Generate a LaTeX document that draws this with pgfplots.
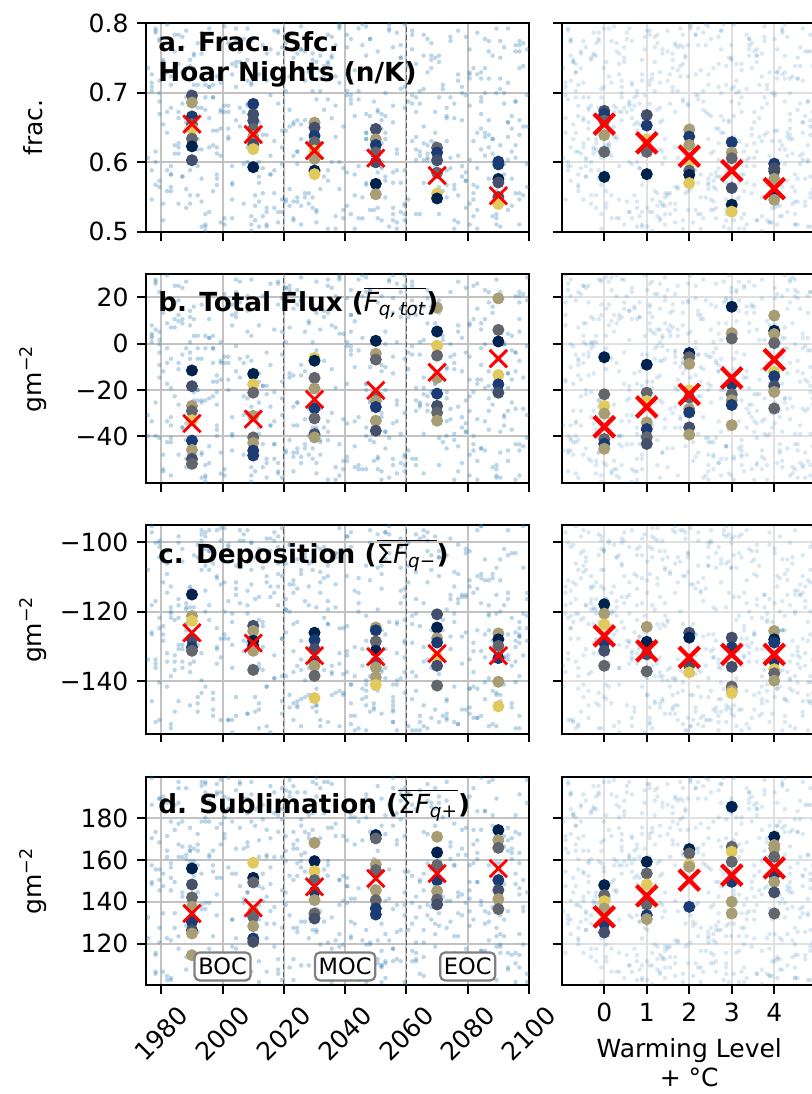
\documentclass[border=0pt]{standalone}
\usepackage{fontspec}
\setmainfont{DejaVu Sans}
\usepackage{amsmath}
\usepackage{pgfplots}
\usepackage{pgfplotstable}
\pgfplotsset{compat=1.18}

\definecolor{cnavy}{HTML}{00224E}
\definecolor{cblue}{HTML}{1B3B74}
\definecolor{cslate}{HTML}{444F6C}
\definecolor{cgray}{HTML}{64666E}
\definecolor{ctan}{HTML}{A89E76}
\definecolor{cyel}{HTML}{E1C95C}
\definecolor{tabblue}{HTML}{1F77B4}

% background scatter, normalised 0-99
\pgfplotstableread{
p q r s
12 85 43 67
57 23 91 8
34 61 5 76
88 47 29 52
3 92 68 15
71 8 37 94
46 74 82 31
19 36 14 59
95 55 63 2
28 17 48 83
63 99 21 44
8 42 77 70
82 66 9 26
40 3 56 89
67 29 33 11
24 81 96 62
51 50 71 38
91 14 2 97
6 70 45 20
76 38 87 73
33 96 18 48
59 21 60 6
15 58 39 85
85 7 94 34
44 89 25 57
2 33 73 92
70 64 11 17
37 12 52 65
98 79 35 40
21 45 84 3
54 27 7 78
79 93 66 23
10 52 28 51
64 5 99 87
31 72 42 13
87 39 16 69
48 84 75 35
17 19 57 98
93 61 31 9
26 97 89 46
72 34 4 81
5 76 64 28
58 10 20 60
39 53 92 14
84 87 49 74
14 25 13 39
66 68 79 91
29 2 38 5
97 46 58 55
43 82 26 33
1 15 70 80
75 57 47 1
52 94 10 64
22 31 85 22
89 73 34 96
35 9 61 42
61 49 1 71
9 88 78 16
80 22 23 53
47 63 97 86
18 40 51 30
94 97 15 8
56 16 69 61
27 71 36 93
73 35 88 45
4 51 6 19
68 80 54 77
38 6 27 58
90 44 81 36
13 90 44 4
60 28 12 84
32 65 95 25
83 11 62 66
45 77 19 49
7 37 74 90
78 59 40 12
50 20 3 72
20 98 90 37
96 41 53 63
41 86 30 7
65 1 67 99
16 54 17 41
86 75 83 24
30 30 46 79
55 67 8 54
11 13 59 10
92 83 24 88
36 48 93 32
62 26 72 68
25 92 41 18
81 4 5 47
49 60 86 95
0 35 32 27
74 78 55 6
42 18 22 75
99 50 98 50
23 69 65 29
69 43 11 82
14 95 38 14
53 8 80 61
87 62 16 40
3 24 50 97
66 89 91 3
39 32 27 70
95 12 70 34
18 74 43 85
57 56 6 21
31 3 62 55
76 84 34 9
8 40 87 76
45 67 13 44
91 19 58 92
27 91 97 18
62 47 24 59
11 29 75 31
84 73 41 72
35 15 2 96
70 57 84 13
4 82 53 65
50 33 18 37
93 88 66 83
22 6 31 2
67 69 94 52
40 44 9 26
86 21 49 89
16 97 78 43
59 38 36 67
79 64 60 11
29 14 85 78
47 80 20 57
97 53 72 23
6 27 3 91
72 94 45 35
37 58 92 73
54 1 29 48
19 71 67 5
88 36 15 64
32 87 56 99
64 23 81 17
10 49 7 86
83 65 39 38
44 10 96 62
0 78 22 15
75 42 76 81
26 61 33 29
61 30 89 53
96 86 1 69
13 17 64 8
52 75 47 94
38 52 12 39
80 5 57 22
21 90 84 76
57 44 26 60
}\bg

% ensemble members: x y colour-class
\pgfplotstableread{
x y c
1990 0.696 s
1990 0.686 t
1990 0.666 b
1990 0.655 g
1990 0.648 y
1990 0.634 g
1990 0.623 n
1990 0.603 s
2010 0.684 b
2010 0.669 s
2010 0.660 s
2010 0.648 g
2010 0.637 t
2010 0.626 s
2010 0.619 y
2010 0.593 n
2030 0.657 t
2030 0.650 s
2030 0.638 b
2030 0.629 g
2030 0.617 y
2030 0.605 t
2030 0.588 n
2030 0.583 y
2050 0.648 s
2050 0.633 t
2050 0.625 b
2050 0.614 g
2050 0.600 s
2050 0.569 n
2050 0.554 t
2070 0.621 g
2070 0.614 b
2070 0.603 s
2070 0.585 g
2070 0.555 y
2070 0.548 n
2070 0.497 y
2090 0.601 b
2090 0.597 b
2090 0.576 n
2090 0.571 s
2090 0.550 s
2090 0.545 g
2090 0.540 y
}\aL
\pgfplotstableread{
x y c
0 0.674 s
0 0.669 b
0 0.660 g
0 0.639 t
0 0.615 g
0 0.579 n
1 0.668 s
1 0.653 b
1 0.633 y
1 0.620 g
1 0.615 g
1 0.583 n
2 0.647 t
2 0.637 b
2 0.625 t
2 0.602 y
2 0.588 g
2 0.582 n
2 0.570 y
3 0.629 b
3 0.614 t
3 0.606 g
3 0.563 s
3 0.539 n
3 0.529 y
4 0.598 b
4 0.591 s
4 0.587 s
4 0.576 t
4 0.552 n
4 0.546 t
}\aR
\pgfplotstableread{
x y c
1990 -11.5 n
1990 -18.3 s
1990 -26.8 t
1990 -29.0 g
1990 -33.0 y
1990 -41.8 b
1990 -45.8 t
1990 -49.7 s
1990 -51.8 g
2010 -13.0 n
2010 -17.5 y
2010 -21.1 g
2010 -31.1 t
2010 -40.4 g
2010 -42.8 t
2010 -46.1 b
2010 -48.2 b
2030 -6.1 y
2030 -7.3 n
2030 -14.7 g
2030 -19.3 t
2030 -27.8 b
2030 -32.2 g
2030 -39.0 s
2030 -40.4 t
2050 1.3 n
2050 -4.3 t
2050 -6.8 g
2050 -22.5 g
2050 -24.7 t
2050 -27.3 b
2050 -33.2 t
2050 -37.5 s
2070 15.6 t
2070 5.3 n
2070 -0.8 y
2070 -5.1 g
2070 -14.7 t
2070 -21.5 b
2070 -26.8 s
2070 -29.7 g
2070 -33.2 t
2090 19.6 t
2090 6.0 g
2090 1.0 n
2090 -13.5 y
2090 -17.5 b
2090 -21.1 s
}\bL
\pgfplotstableread{
x y c
0 -5.8 n
0 -21.8 g
0 -26.8 y
0 -30.1 t
0 -41.1 g
0 -43.2 b
0 -45.3 t
1 -9.0 n
1 -21.1 g
1 -24.7 y
1 -33.9 t
1 -36.8 b
1 -40.3 g
1 -43.2 s
2 -4.0 n
2 -5.8 g
2 -8.7 t
2 -20.1 y
2 -23.2 g
2 -28.2 t
2 -29.6 b
2 -36.1 s
2 -39.2 t
3 16.0 n
3 4.6 t
3 2.3 g
3 -17.5 b
3 -21.8 g
3 -24.4 t
3 -26.4 b
3 -35.1 t
4 12.2 t
4 5.6 n
4 4.2 t
4 0.3 g
4 -12.1 y
4 -14.0 b
4 -18.2 s
4 -20.8 t
4 -27.9 g
}\bR
\pgfplotstableread{
x y c
1990 -115.0 n
1990 -121.2 t
1990 -122.6 y
1990 -127.9 s
1990 -130.2 b
1990 -131.2 g
2010 -124.0 s
2010 -125.5 t
2010 -128.3 n
2010 -129.8 n
2010 -131.2 t
2010 -136.7 g
2030 -126.0 n
2030 -128.1 b
2030 -130.7 s
2030 -134.1 b
2030 -135.5 t
2030 -138.4 g
2030 -144.8 y
2050 -124.5 t
2050 -125.3 b
2050 -128.5 g
2050 -131.2 n
2050 -134.5 s
2050 -136.0 t
2050 -138.8 t
2050 -141.0 y
2070 -120.7 s
2070 -124.5 n
2070 -127.6 t
2070 -128.8 b
2070 -133.1 y
2070 -135.5 s
2070 -141.2 g
2090 -126.2 t
2090 -127.9 n
2090 -129.8 g
2090 -133.3 b
2090 -140.1 t
2090 -147.2 y
}\cL
\pgfplotstableread{
x y c
0 -117.8 n
0 -120.5 t
0 -123.6 y
0 -128.8 b
0 -131.2 s
0 -135.5 g
1 -124.3 t
1 -128.6 n
1 -132.2 s
1 -137.1 g
2 -126.0 s
2 -127.4 n
2 -135.5 s
2 -137.4 y
3 -127.4 s
3 -130.2 b
3 -135.8 s
3 -141.5 g
3 -142.7 t
3 -143.4 y
4 -125.5 t
4 -127.9 n
4 -128.8 b
4 -134.1 b
4 -136.5 y
4 -137.7 g
4 -139.8 t
}\cR
\pgfplotstableread{
x y c
1990 156.0 n
1990 148.3 s
1990 142.1 g
1990 137.6 t
1990 130.4 b
1990 126.4 s
1990 124.8 t
1990 114.4 t
2010 158.7 y
2010 151.5 n
2010 149.3 g
2010 135.2 t
2010 132.8 g
2010 128.3 t
2010 122.4 b
2010 120.8 s
2030 168.3 t
2030 159.5 n
2030 154.7 y
2030 150.4 g
2030 144.8 b
2030 140.8 t
2030 134.4 g
2030 132.0 s
2050 172.0 n
2050 170.4 g
2050 157.9 t
2050 155.2 g
2050 145.6 t
2050 140.8 g
2050 136.8 b
2050 133.9 b
2070 171.2 t
2070 163.7 n
2070 157.6 g
2070 150.4 b
2070 145.1 t
2070 141.1 g
2070 138.7 s
2090 174.4 n
2090 169.6 t
2090 165.9 g
2090 150.4 b
2090 145.6 s
2090 141.3 t
2090 136.5 g
}\dL
\pgfplotstableread{
x y c
0 148.0 n
0 143.2 g
0 140.3 y
0 136.8 t
0 129.6 b
0 125.3 s
1 159.2 n
1 153.6 g
1 148.3 y
1 138.7 g
1 133.6 b
1 131.7 t
2 165.3 n
2 163.2 g
2 157.9 y
2 156.8 t
2 137.6 b
3 185.6 n
3 166.4 g
3 164.0 y
3 159.2 g
3 149.6 b
3 140.0 t
3 134.4 t
4 171.2 n
4 167.2 t
4 165.6 t
4 161.6 g
4 152.8 b
4 149.6 t
4 144.5 s
4 134.4 g
}\dR

\pgfplotsset{
  panel/.style={
    scale only axis, height=83.4pt, anchor=north west,
    axis line style={line width=0.8pt},
    tick align=outside, tick pos=left, major tick length=3.5pt,
    every tick/.append style={black, line width=0.8pt},
    tick label style={font=\fontsize{10}{12}\selectfont},
    label style={font=\fontsize{10}{11.5}\selectfont},
    grid=major, clip mode=individual,
  },
  lpanel/.style={panel, width=153.2pt, xmin=1975, xmax=2100,
    xtick={1980,2000,2020,2040,2060,2080,2100},
    major grid style={line width=0.8pt, black!24},
    ylabel style={at={(axis description cs:-0.295,0.5)}, anchor=center}},
  rpanel/.style={panel, width=102pt, xmin=-1, xmax=5, xtick={0,1,2,3,4},
    yticklabels={}, major grid style={line width=0.8pt, black!12}},
  bg/.style={only marks, mark=*, mark size=0.9pt,
    mark options={draw=tabblue, fill=tabblue, draw opacity=0, fill opacity=#1}},
  ens/.style={scatter, only marks, scatter src=explicit symbolic, mark size=2.2pt,
    scatter/classes={
      n={mark=*, draw=cnavy, fill=cnavy},
      b={mark=*, draw=cblue, fill=cblue},
      s={mark=*, draw=cslate, fill=cslate},
      g={mark=*, draw=cgray, fill=cgray},
      t={mark=*, draw=ctan, fill=ctan},
      y={mark=*, draw=cyel, fill=cyel}}},
  meanL/.style={only marks, mark=x, mark size=4.9pt, red, line width=1.15pt},
  meanR/.style={only marks, mark=x, mark size=5.8pt, red, line width=1.7pt},
}
\tikzset{
  divline/.style={draw=black!65, line width=0.45pt, dash pattern=on 2pt off 1.2pt},
  ptitle/.style={anchor=base west, inner sep=0pt, font=\bfseries\fontsize{10.5}{12}\selectfont},
  period/.style={draw=gray, line width=0.9pt, rounded corners=2pt, fill=white,
    inner xsep=1.5pt, inner ysep=2.3pt, text height=6.6pt, text depth=0pt,
    font=\fontsize{9}{10}\selectfont},
}

\begin{document}
\begin{tikzpicture}
% ---- row a
\begin{axis}[lpanel, at={(58.4pt,-9.32pt)}, ymin=0.5, ymax=0.8,
  ytick={0.5,0.6,0.7,0.8}, yticklabels={0.5,0.6,0.7,0.8}, xticklabels={}, ylabel={frac.}]
  \addplot[bg=0.3] table[x expr={1975+1.25*(\thisrow{p}+0.5)}, y expr={0.5+0.003*(\thisrow{q}+0.5)}] {\bg};
  \addplot[bg=0.3] table[x expr={1975+1.25*(\thisrow{r}+0.5)}, y expr={0.5+0.003*(\thisrow{s}+0.5)}] {\bg};
  \addplot[bg=0.3] table[x expr={1975+1.25*(\thisrow{s}+0.5)}, y expr={0.5+0.003*(\thisrow{p}+0.5)}] {\bg};
  \addplot[bg=0.3] table[x expr={1975+1.25*(\thisrow{q}+0.5)}, y expr={0.5+0.003*(\thisrow{r}+0.5)}] {\bg};
  \draw[divline] (axis cs:2020,0.5) -- (axis cs:2020,0.8);
  \draw[divline] (axis cs:2060,0.5) -- (axis cs:2060,0.8);
  \addplot[ens] table[meta=c] {\aL};
  \addplot[meanL] coordinates {(1990,0.655) (2010,0.640) (2030,0.617) (2050,0.606) (2070,0.581) (2090,0.552)};
  \node[ptitle] at (rel axis cs:0.031,1) [yshift=-11.4pt] {a. Frac. Sfc.};
  \node[ptitle] at (rel axis cs:0.031,1) [yshift=-23.4pt] {Hoar Nights (n/K)};
\end{axis}
\begin{axis}[rpanel, at={(224.7pt,-9.32pt)}, ymin=0.5, ymax=0.8,
  ytick={0.5,0.6,0.7,0.8}, xticklabels={}]
  \addplot[bg=0.17] table[x expr={-1+0.06*(\thisrow{q}+0.5)}, y expr={0.5+0.003*(\thisrow{p}+0.5)}] {\bg};
  \addplot[bg=0.17] table[x expr={-1+0.06*(\thisrow{s}+0.5)}, y expr={0.5+0.003*(\thisrow{r}+0.5)}] {\bg};
  \addplot[bg=0.17] table[x expr={-1+0.06*(\thisrow{r}+0.5)}, y expr={0.5+0.003*(\thisrow{s}+0.5)}] {\bg};
  \addplot[bg=0.17] table[x expr={-1+0.06*(\thisrow{p}+0.5)}, y expr={0.5+0.003*(\thisrow{q}+0.5)}] {\bg};
  \addplot[ens] table[meta=c] {\aR};
  \addplot[meanR] coordinates {(0,0.655) (1,0.628) (2,0.609) (3,0.588) (4,0.562)};
\end{axis}
% ---- row b
\begin{axis}[lpanel, at={(58.4pt,-109.72pt)}, ymin=-60, ymax=30,
  ytick={-40,-20,0,20}, yticklabels={−40,−20,0,20}, xticklabels={}, ylabel={gm\textsuperscript{−2}}]
  \addplot[bg=0.3] table[x expr={1975+1.25*(\thisrow{q}+0.5)}, y expr={-60+0.9*(\thisrow{r}+0.5)}] {\bg};
  \addplot[bg=0.3] table[x expr={1975+1.25*(\thisrow{s}+0.5)}, y expr={-60+0.9*(\thisrow{p}+0.5)}] {\bg};
  \addplot[bg=0.3] table[x expr={1975+1.25*(\thisrow{p}+0.5)}, y expr={-60+0.9*(\thisrow{r}+0.5)}] {\bg};
  \addplot[bg=0.3] table[x expr={1975+1.25*(\thisrow{r}+0.5)}, y expr={-60+0.9*(\thisrow{s}+0.5)}] {\bg};
  \draw[divline] (axis cs:2020,-60) -- (axis cs:2020,30);
  \draw[divline] (axis cs:2060,-60) -- (axis cs:2060,30);
  \addplot[ens] table[meta=c] {\bL};
  \addplot[meanL] coordinates {(1990,-34.4) (2010,-32.5) (2030,-24.0) (2050,-20.1) (2070,-12.3) (2090,-6.4)};
  \node[ptitle] at (rel axis cs:0.031,1) [yshift=-15pt] {b. Total Flux ($\overline{\text{\mdseries\itshape F}_{\text{\mdseries\itshape q,\,tot}}}$)};
\end{axis}
\begin{axis}[rpanel, at={(224.7pt,-109.72pt)}, ymin=-60, ymax=30,
  ytick={-40,-20,0,20}, xticklabels={}]
  \addplot[bg=0.17] table[x expr={-1+0.06*(\thisrow{r}+0.5)}, y expr={-60+0.9*(\thisrow{q}+0.5)}] {\bg};
  \addplot[bg=0.17] table[x expr={-1+0.06*(\thisrow{p}+0.5)}, y expr={-60+0.9*(\thisrow{s}+0.5)}] {\bg};
  \addplot[bg=0.17] table[x expr={-1+0.06*(\thisrow{q}+0.5)}, y expr={-60+0.9*(\thisrow{s}+0.5)}] {\bg};
  \addplot[bg=0.17] table[x expr={-1+0.06*(\thisrow{s}+0.5)}, y expr={-60+0.9*(\thisrow{p}+0.5)}] {\bg};
  \addplot[ens] table[meta=c] {\bR};
  \addplot[meanR] coordinates {(0,-35.8) (1,-27.2) (2,-21.8) (3,-14.7) (4,-6.8)};
\end{axis}
% ---- row c
\begin{axis}[lpanel, at={(58.4pt,-210pt)}, ymin=-155, ymax=-95,
  ytick={-140,-120,-100}, yticklabels={−140,−120,−100}, xticklabels={}, ylabel={gm\textsuperscript{−2}}]
  \addplot[bg=0.3] table[x expr={1975+1.25*(\thisrow{r}+0.5)}, y expr={-155+0.6*(\thisrow{p}+0.5)}] {\bg};
  \addplot[bg=0.3] table[x expr={1975+1.25*(\thisrow{q}+0.5)}, y expr={-155+0.6*(\thisrow{s}+0.5)}] {\bg};
  \addplot[bg=0.3] table[x expr={1975+1.25*(\thisrow{s}+0.5)}, y expr={-155+0.6*(\thisrow{r}+0.5)}] {\bg};
  \addplot[bg=0.3] table[x expr={1975+1.25*(\thisrow{p}+0.5)}, y expr={-155+0.6*(\thisrow{q}+0.5)}] {\bg};
  \draw[divline] (axis cs:2020,-155) -- (axis cs:2020,-95);
  \draw[divline] (axis cs:2060,-155) -- (axis cs:2060,-95);
  \addplot[ens] table[meta=c] {\cL};
  \addplot[meanL] coordinates {(1990,-126.0) (2010,-129.0) (2030,-132.6) (2050,-132.9) (2070,-132.0) (2090,-132.6)};
  \node[ptitle] at (rel axis cs:0.031,1) [yshift=-15.3pt] {c. Deposition ($\overline{\text{\mdseries Σ\itshape F}_{\text{\mdseries\itshape q\upshape −}}}$)};
\end{axis}
\begin{axis}[rpanel, at={(224.7pt,-210pt)}, ymin=-155, ymax=-95,
  ytick={-140,-120,-100}, xticklabels={}]
  \addplot[bg=0.17] table[x expr={-1+0.06*(\thisrow{s}+0.5)}, y expr={-155+0.6*(\thisrow{q}+0.5)}] {\bg};
  \addplot[bg=0.17] table[x expr={-1+0.06*(\thisrow{p}+0.5)}, y expr={-155+0.6*(\thisrow{r}+0.5)}] {\bg};
  \addplot[bg=0.17] table[x expr={-1+0.06*(\thisrow{r}+0.5)}, y expr={-155+0.6*(\thisrow{p}+0.5)}] {\bg};
  \addplot[bg=0.17] table[x expr={-1+0.06*(\thisrow{q}+0.5)}, y expr={-155+0.6*(\thisrow{r}+0.5)}] {\bg};
  \addplot[ens] table[meta=c] {\cR};
  \addplot[meanR] coordinates {(0,-126.9) (1,-131.2) (2,-133.1) (3,-132.2) (4,-132.2)};
\end{axis}
% ---- row d
\begin{axis}[lpanel, at={(58.4pt,-310.68pt)}, ymin=100, ymax=200,
  ytick={120,140,160,180}, yticklabels={120,140,160,180},
  xticklabels={1980,2000,2020,2040,2060,2080,2100},
  xticklabel style={yshift=-15.9pt, rotate=45, anchor=center},
  ylabel={gm\textsuperscript{−2}}]
  \addplot[bg=0.3] table[x expr={1975+1.25*(\thisrow{s}+0.5)}, y expr={100+(\thisrow{q}+0.5)}] {\bg};
  \addplot[bg=0.3] table[x expr={1975+1.25*(\thisrow{p}+0.5)}, y expr={100+(\thisrow{r}+0.5)}] {\bg};
  \addplot[bg=0.3] table[x expr={1975+1.25*(\thisrow{r}+0.5)}, y expr={100+(\thisrow{q}+0.5)}] {\bg};
  \addplot[bg=0.3] table[x expr={1975+1.25*(\thisrow{q}+0.5)}, y expr={100+(\thisrow{s}+0.5)}] {\bg};
  \draw[divline] (axis cs:2020,100) -- (axis cs:2020,200);
  \draw[divline] (axis cs:2060,100) -- (axis cs:2060,200);
  \addplot[ens] table[meta=c] {\dL};
  \addplot[meanL] coordinates {(1990,134.4) (2010,137.1) (2030,147.2) (2050,151.2) (2070,153.6) (2090,156.0)};
  \node[ptitle] at (rel axis cs:0.031,1) [yshift=-14.6pt] {d. Sublimation ($\overline{\text{\mdseries Σ\itshape F}_{\text{\mdseries\itshape q\upshape +}}}$)};
  \node[period] at (axis cs:2000,109) {BOC};
  \node[period] at (axis cs:2040,109) {MOC};
  \node[period] at (axis cs:2080,109) {EOC};
\end{axis}
\begin{axis}[rpanel, at={(224.7pt,-310.68pt)}, ymin=100, ymax=200,
  ytick={120,140,160,180}, xticklabels={0,1,2,3,4},
  xlabel={Warming Level\\+ °C}, xlabel style={align=center}]
  \addplot[bg=0.17] table[x expr={-1+0.06*(\thisrow{r}+0.5)}, y expr={100+(\thisrow{s}+0.5)}] {\bg};
  \addplot[bg=0.17] table[x expr={-1+0.06*(\thisrow{q}+0.5)}, y expr={100+(\thisrow{p}+0.5)}] {\bg};
  \addplot[bg=0.17] table[x expr={-1+0.06*(\thisrow{p}+0.5)}, y expr={100+(\thisrow{q}+0.5)}] {\bg};
  \addplot[bg=0.17] table[x expr={-1+0.06*(\thisrow{s}+0.5)}, y expr={100+(\thisrow{r}+0.5)}] {\bg};
  \addplot[ens] table[meta=c] {\dR};
  \addplot[meanR] coordinates {(0,132.8) (1,142.9) (2,150.4) (3,152.8) (4,156.3)};
\end{axis}
\pgfresetboundingbox
\path[use as bounding box] (0pt,0pt) rectangle (324.8pt,-437.6pt);
\end{tikzpicture}
\end{document}
